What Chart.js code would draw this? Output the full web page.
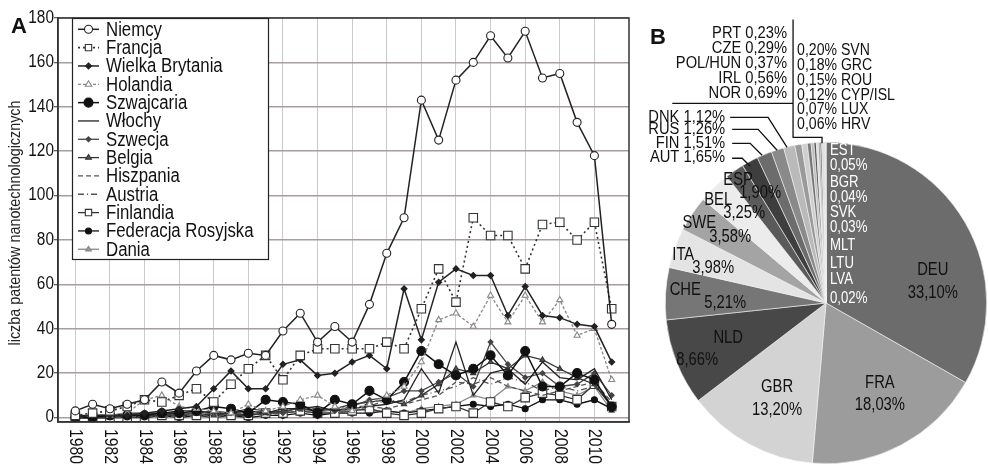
<!DOCTYPE html>
<html><head><meta charset="utf-8">
<script src="https://cdn.jsdelivr.net/npm/chart.js@4/dist/chart.umd.min.js"></script>
<style>
html,body{margin:0;padding:0;background:#fff;}
#wrap{position:relative;width:988px;height:464px;overflow:hidden;}
#c1{position:absolute;left:0;top:0;}
#c2{position:absolute;left:640px;top:0;}
</style></head><body>
<div id="wrap"><canvas id="c1" width="640" height="464"></canvas><canvas id="c2" width="348" height="464"></canvas></div>
<script>
const FONT = "'Liberation Sans',Arial,sans-serif";

// ---------- DATA ----------
const years = [1980,1981,1982,1983,1984,1985,1986,1987,1988,1989,1990,1991,1992,1993,1994,1995,1996,1997,1998,1999,2000,2001,2002,2003,2004,2005,2006,2007,2008,2009,2010,2011];
const xTickYears = [1980,1982,1984,1986,1988,1990,1992,1994,1996,1998,2000,2002,2004,2006,2008,2010];
const yTicks = [0,20,40,60,80,100,120,140,160,180];

const niemcy     = [3,6,4,6,8,16,11,21,28,26,29,28,39,47,34,41,34,51,74,90,143,125,152,160,172,162,174,153,155,133,118,42];
const francja    = [1,2,3,5,8,7,10,13,7,15,22,28,17,28,31,31,31,31,34,31,49,67,52,90,82,82,67,87,88,80,88,49];
const wBrytania  = [0,1,1,1,2,3,4,5,13,21,13,13,24,26,19,20,25,28,22,58,35,61,67,64,64,46,59,46,45,42,41,25];
const holandia   = [0,1,1,2,8,10,5,4,3,2,6,3,5,8,10,5,3,6,10,14,25,44,47,41,55,43,55,43,53,37,40,17];
const szwajcaria = [0,0,1,1,1,2,2,3,5,4,2,8,7,6,2,8,6,12,8,16,30,24,19,22,28,19,30,14,14,20,17,5];
const wlochy     = [1,1,1,2,2,2,3,3,2,2,3,2,4,4,5,3,4,5,6,8,22,11,34,10,20,22,15,25,18,17,22,8];
const szwecja    = [0,0,1,1,1,2,1,2,3,2,4,3,2,5,4,3,5,8,9,12,12,16,20,14,34,24,18,20,14,15,20,10];
const belgia     = [0,0,0,1,1,1,2,2,1,2,1,2,3,4,3,4,6,7,8,6,10,15,22,20,25,22,28,26,22,18,15,5];
const hiszpania  = [0,0,0,0,1,0,1,1,1,1,2,1,2,3,2,2,3,5,4,6,8,10,16,15,18,14,12,10,12,14,16,7];
const austria    = [0,0,1,1,1,1,2,1,2,2,2,3,2,4,3,4,5,5,8,7,10,12,14,18,15,18,16,12,14,12,14,6];
const finlandia  = [0,0,0,0,0,1,1,1,0,1,1,2,2,3,2,2,3,4,2,1,2,4,5,2,7,5,9,11,10,8,15,5];
const rosja      = [0,0,0,1,0,1,0,1,1,1,0,1,1,2,1,2,2,2,3,2,3,4,5,6,5,6,4,8,8,6,8,4];
const dania      = [0,0,0,1,1,1,1,1,1,2,2,2,2,3,3,2,4,3,3,2,4,5,6,10,8,14,12,16,12,10,14,3];

const pieLabels = ['DEU','FRA','GBR','NLD','CHE','ITA','SWE','BEL','ESP','AUT','FIN','RUS','DNK','NOR','IRL','POL/HUN','CZE','PRT','SVN','GRC','ROU','CYP/ISL','LUX','HRV','EST','BGR','SVK','MLT','LTU','LVA'];
const pieValues = [33.10,18.03,13.20,8.66,5.21,3.98,3.58,3.25,1.90,1.65,1.51,1.26,1.12,0.69,0.56,0.37,0.29,0.23,0.20,0.18,0.15,0.12,0.07,0.06,0.05,0.04,0.03,0.02,0.02,0.02];

// ---------- STYLES ----------
const series = [
  {label:'Niemcy', data:niemcy, color:'#222', w:1.5, dash:[], ps:'circle', r:4, pf:'#fff'},
  {label:'Francja', data:francja, color:'#333', w:1.6, dash:[2,3], ps:'rect', r:6, pf:'#fff'},
  {label:'Wielka Brytania', data:wBrytania, color:'#222', w:1.5, dash:[], ps:'rectRot', r:3, pf:'#222'},
  {label:'Holandia', data:holandia, color:'#888', w:1.3, dash:[3,2], ps:'triangle', r:3.5, pf:'#fff'},
  {label:'Szwajcaria', data:szwajcaria, color:'#111', w:1.5, dash:[], ps:'circle', r:4.5, pf:'#111'},
  {label:'Włochy', data:wlochy, color:'#222', w:1.3, dash:[], ps:'circle', r:0, pf:'#222'},
  {label:'Szwecja', data:szwecja, color:'#444', w:1.3, dash:[], ps:'rectRot', r:2.5, pf:'#444'},
  {label:'Belgia', data:belgia, color:'#333', w:1.3, dash:[], ps:'triangle', r:3, pf:'#555'},
  {label:'Hiszpania', data:hiszpania, color:'#555', w:1.3, dash:[5,3], ps:'circle', r:0, pf:'#555'},
  {label:'Austria', data:austria, color:'#555', w:1.3, dash:[6,3,1,3], ps:'circle', r:0, pf:'#555'},
  {label:'Finlandia', data:finlandia, color:'#333', w:1.3, dash:[], ps:'rect', r:6, pf:'#fff'},
  {label:'Federacja Rosyjska', data:rosja, color:'#111', w:1.3, dash:[], ps:'circle', r:3, pf:'#111'},
  {label:'Dania', data:dania, color:'#888', w:1.3, dash:[], ps:'triangle', r:3, pf:'#999'}
];

const pieColors = ['#6c6c6c','#9c9c9c','#d3d3d3','#484848','#767676','#e4e4e4','#a4a4a4','#ececec','#5a5a5a','#3e3e3e','#6c6c6c','#8a8a8a','#bababa','#9a9a9a','#cfcfcf','#777777','#bcbcbc','#555555','#dddddd','#999999','#444444','#cccccc','#666666','#aaaaaa','#333333','#888888','#555555','#bbbbbb','#777777','#999999'];

// ---------- helpers ----------
function txt(ctx, t, x, y, o){
  o = Object.assign({size:17, sx:0.87, align:'left', base:'middle', color:'#111', rot:0, bold:false}, o||{});
  ctx.save(); ctx.translate(x,y); if(o.rot) ctx.rotate(o.rot); ctx.scale(o.sx,1);
  ctx.font=(o.bold?'bold ':'')+o.size+'px '+FONT; ctx.fillStyle=o.color; ctx.textAlign=o.align; ctx.textBaseline=o.base;
  ctx.fillText(t,0,0); ctx.restore();
}
function drawMarker(ctx, style, x, y, r, fill, stroke){
  if(!r) return;
  ctx.save(); ctx.setLineDash([]); ctx.fillStyle=fill; ctx.strokeStyle=stroke; ctx.lineWidth=1.1;
  ctx.beginPath();
  if(style==='circle'){ ctx.arc(x,y,r,0,Math.PI*2); }
  else if(style==='rect'){ const s=r*Math.SQRT1_2; ctx.rect(x-s,y-s,2*s,2*s); }
  else if(style==='rectRot'){ ctx.moveTo(x,y-r); ctx.lineTo(x+r,y); ctx.lineTo(x,y+r); ctx.lineTo(x-r,y); ctx.closePath(); }
  else if(style==='triangle'){ ctx.moveTo(x,y-r); ctx.lineTo(x+r*0.95,y+r*0.55); ctx.lineTo(x-r*0.95,y+r*0.55); ctx.closePath(); }
  ctx.fill(); ctx.stroke(); ctx.restore();
}

// ---------- CHART A ----------
const LEG = {x:72, y:18, w:196, h:241, row0:29.3, step:18.33, l0:78, l1:99, tx:106, size:20, sx:0.84};
const plugA = {
  id:'plugA',
  afterDatasetsDraw(chart){
    const {ctx, chartArea:a} = chart;
    ctx.save();
    ctx.strokeStyle='#333'; ctx.lineWidth=1.5; ctx.setLineDash([]);
    ctx.strokeRect(a.left, a.top, a.right-a.left, a.bottom-a.top);
    ctx.fillStyle='#fff'; ctx.fillRect(LEG.x, LEG.y, LEG.w, LEG.h);
    ctx.strokeStyle='#222'; ctx.lineWidth=1.2; ctx.strokeRect(LEG.x+0.5, LEG.y+0.5, LEG.w, LEG.h);
    series.forEach((s,i)=>{
      const y = LEG.row0 + i*LEG.step;
      ctx.save();
      ctx.strokeStyle=s.color; ctx.lineWidth=s.w; ctx.setLineDash(s.dash);
      ctx.beginPath(); ctx.moveTo(LEG.l0,y); ctx.lineTo(LEG.l1,y); ctx.stroke();
      ctx.restore();
      drawMarker(ctx, s.ps, (LEG.l0+LEG.l1)/2, y, s.r ? Math.min(s.r,4.5) : 0, s.pf, s.color);
      txt(ctx, s.label, LEG.tx, y+1, {size:LEG.size, sx:LEG.sx});
    });
    ctx.restore();
  },
  afterDraw(chart){
    const {ctx, chartArea:a, scales:{x,y}} = chart;
    xTickYears.forEach(v=>{
      txt(ctx, String(v), x.getPixelForValue(v), a.bottom+7, {size:18, sx:0.87, rot:Math.PI/2, align:'left', base:'middle'});
    });
    yTicks.forEach(v=>{
      txt(ctx, String(v), a.left-4, y.getPixelForValue(v), {size:17.5, sx:0.88, align:'right', base:'middle'});
    });
    txt(ctx, 'liczba patentów nanotechnologicznych', 15, (a.top+a.bottom)/2+3, {size:16.5, sx:0.87, rot:-Math.PI/2, align:'center', base:'middle', color:'#222'});
    txt(ctx, 'A', 11, 33, {size:22, sx:1, bold:true, base:'alphabetic'});
  }
};

new Chart(document.getElementById('c1'), {
  type:'line',
  data:{datasets: series.map(s=>({
    label:s.label,
    data: years.map((yr,i)=>({x:yr, y:s.data[i]})),
    borderColor:s.color, borderWidth:s.w, borderDash:s.dash,
    pointStyle:s.ps, pointRadius:s.r, pointBackgroundColor:s.pf, pointBorderColor:s.color, pointBorderWidth:1.1,
    tension:0, fill:false
  }))},
  options:{
    responsive:false, animation:false,
    layout:{padding:{left:0, top:18, right:11, bottom:0}},
    plugins:{legend:{display:false}, tooltip:{enabled:false}},
    scales:{
      x:{type:'linear', min:1979, max:2012,
        afterBuildTicks: ax => { ax.ticks = xTickYears.map(v=>({value:v})); },
        grid:{color:'#cbcbcb', lineWidth:1, drawTicks:false},
        border:{display:true, color:'#333', width:1.5},
        ticks:{display:false},
        afterFit: ax => { ax.height = 42; }
      },
      y:{min:-2, max:180,
        afterBuildTicks: ax => { ax.ticks = yTicks.map(v=>({value:v})); },
        grid:{color:'#a89c9c', lineWidth:1.5, tickLength:4, tickColor:'#333', tickWidth:1},
        border:{display:true, color:'#333', width:1.5},
        ticks:{color:'rgba(0,0,0,0)', font:{size:12}},
        afterFit: ax => { ax.width = 58; }
      }
    }
  },
  plugins:[plugA]
});

// ---------- CHART B ----------
// label layout: [text, dx, dy (px relative to pie centre, radius 161), align, color, size, xscale]
const inLabels = [
  ['DEU',107,-33,'center','#111',18.5,0.8],['33,10%',107,-10,'center','#111',18.5,0.8],
  ['FRA',54,80,'center','#111',18.5,0.8],['18,03%',54,102,'center','#111',18.5,0.8],
  ['GBR',-49,84,'center','#111',18.5,0.8],['13,20%',-49,107,'center','#111',18.5,0.8],
  ['NLD',-98,35,'center','#111',18.5,0.8],['8,66%',-129,57,'center','#111',18.5,0.8],
  ['CHE',-141,-13,'center','#111',18.5,0.8],['5,21%',-101,0,'center','#111',18.5,0.8],
  ['ITA',-143,-48,'center','#111',18.5,0.8],['3,98%',-113,-35,'center','#111',18.5,0.8],
  ['SWE',-127,-80,'center','#111',18.5,0.8],['3,58%',-96,-66,'center','#111',18.5,0.8],
  ['BEL',-108,-103,'center','#111',18.5,0.8],['3,25%',-82,-90,'center','#111',18.5,0.8],
  ['ESP',-88,-123,'center','#111',18.5,0.8],['1,90%',-66,-110,'center','#111',18.5,0.8],
  ['EST',4,-153,'left','#fff',16.5,0.8],['0,05%',4,-138,'left','#fff',16.5,0.8],
  ['BGR',4,-121,'left','#fff',16.5,0.8],['0,04%',4,-106,'left','#fff',16.5,0.8],
  ['SVK',4,-91,'left','#fff',16.5,0.8],['0,03%',4,-76,'left','#fff',16.5,0.8],
  ['MLT',4,-58,'left','#fff',16.5,0.8],['LTU',4,-40,'left','#fff',16.5,0.8],
  ['LVA',4,-24,'left','#fff',16.5,0.8],['0,02%',4,-5,'left','#fff',16.5,0.8],
  ['PRT 0,23%',-39,-270,'right','#111',16,0.92],['CZE 0,29%',-39,-255,'right','#111',16,0.92],
  ['POL/HUN 0,37%',-39,-240,'right','#111',16,0.92],['IRL 0,56%',-39,-225,'right','#111',16,0.92],
  ['NOR 0,69%',-39,-210,'right','#111',16,0.92],
  ['0,20% SVN',-29,-253,'left','#111',16,0.88],['0,18% GRC',-29,-238,'left','#111',16,0.88],
  ['0,15% ROU',-29,-223,'left','#111',16,0.88],['0,12% CYP/ISL',-29,-208,'left','#111',16,0.88],
  ['0,07% LUX',-29,-194,'left','#111',16,0.88],['0,06% HRV',-29,-179,'left','#111',16,0.88],
  ['DNK 1,12%',-101,-186,'right','#111',16,0.92],['RUS 1,26%',-101,-174,'right','#111',16,0.92],
  ['FIN 1,51%',-101,-160,'right','#111',16,0.92],['AUT 1,65%',-101,-146,'right','#111',16,0.92]
];
const leaderLines = [
  [[-33,-284],[-33,-166],[-4,-166],[-4,-160]],
  [[-154,-200],[-33,-200]],
  [[-96,-186],[-58,-186],[-39,-156]],
  [[-94,-174],[-68,-174],[-49,-153]],
  [[-94,-160],[-76,-160],[-64,-148]],
  [[-94,-145],[-84,-145],[-76,-137]]
];
const plugB = {
  id:'plugB',
  afterDraw(chart){
    const {ctx} = chart;
    const arc = chart.getDatasetMeta(0).data[0];
    const cx = arc.x, cy = arc.y, k = arc.outerRadius/161;
    ctx.save();
    ctx.strokeStyle='#111'; ctx.lineWidth=1.3;
    leaderLines.forEach(pts=>{
      ctx.beginPath();
      pts.forEach((p,i)=>{ const X=cx+p[0]*k, Y=cy+p[1]*k; i?ctx.lineTo(X,Y):ctx.moveTo(X,Y); });
      ctx.stroke();
    });
    ctx.restore();
    inLabels.forEach(([t,dx,dy,al,col,sz,sx])=>{
      txt(ctx, t, cx+dx*k, cy+dy*k, {size:sz, sx:sx, align:al, color:col});
    });
    txt(ctx, 'B', 10, 44, {size:22, sx:1, bold:true, base:'alphabetic'});
  }
};

new Chart(document.getElementById('c2'), {
  type:'pie',
  data:{labels:pieLabels, datasets:[{data:pieValues, backgroundColor:pieColors, borderColor:'#f2f2f2', borderWidth:0.6}]},
  options:{
    responsive:false, animation:false, rotation:0,
    layout:{padding:{left:25, right:1, top:142, bottom:0}},
    plugins:{legend:{display:false}, tooltip:{enabled:false}}
  },
  plugins:[plugB]
});
</script>
</body></html>
